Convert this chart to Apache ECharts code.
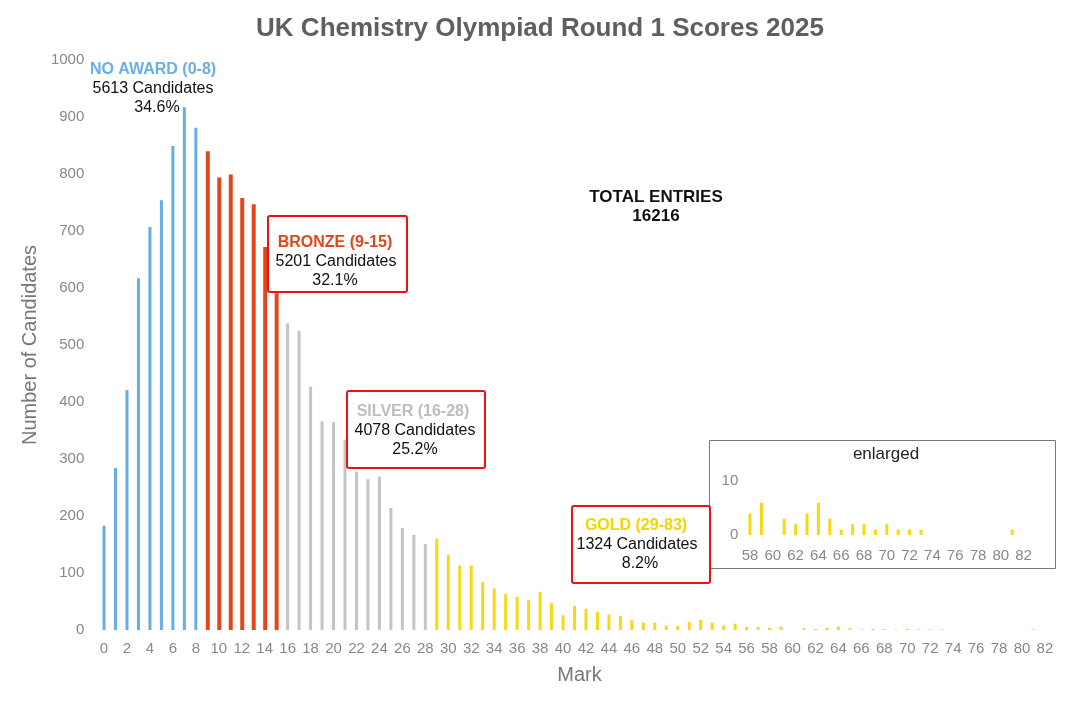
<!DOCTYPE html>
<html><head><meta charset="utf-8">
<script src="https://cdn.jsdelivr.net/npm/echarts@6.0.0/dist/echarts.min.js"></script>
<style>html,body{margin:0;padding:0;background:#fff}#c{width:1080px;height:705px}</style>
</head><body><div id="c"></div>
<script>
const marks = [0,1,2,3,4,5,6,7,8,9,10,11,12,13,14,15,16,17,18,19,20,21,22,23,24,25,26,27,28,29,30,31,32,33,34,35,36,37,38,39,40,41,42,43,44,45,46,47,48,49,50,51,52,53,54,55,56,57,58,59,60,61,62,63,64,65,66,67,68,69,70,71,72,73,74,75,76,77,78,79,80,81,82];
const counts = [183,284,421,617,707,754,849,917,881,
  840,794,799,758,747,672,591,
  538,525,427,366,365,334,278,265,269,214,179,167,151,
  160,132,113,113,84,73,63,58,53,67,47,26,42,37,32,27,25,17,13,13,8,7,14,18,13,8,11,5,5,4,6,0,3,2,4,6,3,1,2,2,1,2,1,1,1,0,0,0,0,0,0,0,1,0];
const awardNames = ['NO AWARD','BRONZE','SILVER','GOLD'];
const awardFirst = [0,9,16,29];
const awardLast = [8,15,28,82];
const awardLabelRange = ['0-8','9-15','16-28','29-83'];
const awardTotals = [5613,5201,4078,1324];
const awardPct = ['34.6%','32.1%','25.2%','8.2%'];
const awardColors = ['#67aee6','#e2471b','#c4c4c4','#f7d812'];
const awardTextColors = ['#6aaee6','#e2471b','#bdbdbd','#f2d600'];
const totalEntries = 16216;
const yTicks = [0,100,200,300,400,500,600,700,800,900,1000];
const insetFirst = 58, insetLast = 82;

const FONT = '"Liberation Sans", Arial, sans-serif';
const chart = echarts.init(document.getElementById('c'), null, {renderer:'canvas'});

const insetMarks = marks.filter(m => m >= insetFirst && m <= insetLast);
const insetCounts = insetMarks.map(m => counts[marks.indexOf(m)]);
const nz = v => (v === 0 ? '-' : v);

const series = awardNames.map((n, k) => ({
  type: 'bar', name: n, xAxisIndex: 0, yAxisIndex: 0,
  barWidth: k === 1 ? 4 : 3, barGap: '-100%',
  itemStyle: {color: awardColors[k]},
  data: counts.map((v, i) => (marks[i] >= awardFirst[k] && marks[i] <= awardLast[k]) ? nz(v) : '-'),
  silent: true
}));
series.push({
  type: 'bar', xAxisIndex: 1, yAxisIndex: 1, barWidth: 3,
  itemStyle: {color: awardColors[3]}, data: insetCounts.map(nz), silent: true
});

function txt(x, y, text, size, color, bold) {
  return {type:'text', x, y, z: 20, style:{text, fill: color, font: (bold?'bold ':'') + size + 'px ' + FONT, textAlign:'center', textVerticalAlign:'middle'}};
}
function box(x, y, w, h) {
  return {type:'rect', z: 10, shape:{x, y, width:w, height:h, r:2}, style:{fill:'#fff', stroke:'#f01010', lineWidth:2}};
}

const graphics = [
  txt(153, 70, awardNames[0] + ' (' + awardLabelRange[0] + ')', 16, awardTextColors[0], true),
  txt(153, 89, awardTotals[0] + ' Candidates', 16, '#111', false),
  txt(157, 108, awardPct[0], 16, '#111', false),
  txt(656, 197, 'TOTAL ENTRIES', 17, '#111', true),
  txt(656, 216, String(totalEntries), 17, '#111', true),
  box(268, 216, 139, 76),
  txt(335, 243, awardNames[1] + ' (' + awardLabelRange[1] + ')', 16, awardTextColors[1], true),
  txt(336, 262, awardTotals[1] + ' Candidates', 16, '#111', false),
  txt(335, 281, awardPct[1], 16, '#111', false),
  box(347, 391, 138, 77),
  txt(413, 412, awardNames[2] + ' (' + awardLabelRange[2] + ')', 16, awardTextColors[2], true),
  txt(415, 431, awardTotals[2] + ' Candidates', 16, '#111', false),
  txt(415, 450, awardPct[2], 16, '#111', false),
  box(572, 506, 138, 77),
  txt(636, 526, awardNames[3] + ' (' + awardLabelRange[3] + ')', 16, awardTextColors[3], true),
  txt(637, 545, awardTotals[3] + ' Candidates', 16, '#111', false),
  txt(640, 564, awardPct[3], 16, '#111', false),
  {type:'rect', z: 1, shape:{x:709.5, y:440.5, width:346, height:128}, style:{fill:'#fff', stroke:'#777', lineWidth:1}},
  txt(886, 454, 'enlarged', 17, '#222', false)
];

chart.setOption({
  animation: false,
  backgroundColor: '#fff',
  textStyle: {fontFamily: FONT},
  title: {text: 'UK Chemistry Olympiad Round 1 Scores 2025', left: 'center', top: 11,
    textStyle: {fontSize: 26, fontWeight: 'bold', color: '#5f5f5f', fontFamily: FONT}},
  grid: [
    {left: 98.3, right: 29.3, top: 60, bottom: 75},
    {left: 744.3, right: 50.7, top: 481, bottom: 170, z: 5}
  ],
  xAxis: [
    {type: 'category', gridIndex: 0, data: marks, boundaryGap: true,
     name: 'Mark', nameLocation: 'middle', nameGap: 35,
     nameTextStyle: {fontSize: 20, color: '#777', fontFamily: FONT, padding: [0, 0, 0, 10]},
     axisLine: {show: false}, axisTick: {show: false},
     axisLabel: {interval: 1, color: '#888', fontSize: 15, margin: 11, fontFamily: FONT}},
    {type: 'category', gridIndex: 1, data: insetMarks, boundaryGap: true,
     axisLine: {show: false}, axisTick: {show: false},
     axisLabel: {interval: 1, color: '#888', fontSize: 15, margin: 13, fontFamily: FONT}, z: 6}
  ],
  yAxis: [
    {type: 'value', gridIndex: 0, min: yTicks[0], max: yTicks[yTicks.length-1], interval: 100,
     name: 'Number of Candidates', nameLocation: 'middle', nameGap: 52,
     nameTextStyle: {fontSize: 20, color: '#777', fontFamily: FONT},
     axisLine: {show: false}, axisTick: {show: false},
     axisLabel: {color: '#888', fontSize: 15, margin: 14, fontFamily: FONT, formatter: v => String(v)},
     splitLine: {show: false}},
    {type: 'value', gridIndex: 1, min: 0, max: 10, interval: 10,
     axisLine: {show: false}, axisTick: {show: false},
     axisLabel: {color: '#888', fontSize: 15, margin: 6, fontFamily: FONT, formatter: v => String(v)},
     splitLine: {show: false}, z: 6}
  ],
  series: series,
  graphic: graphics
});
</script></body></html>
